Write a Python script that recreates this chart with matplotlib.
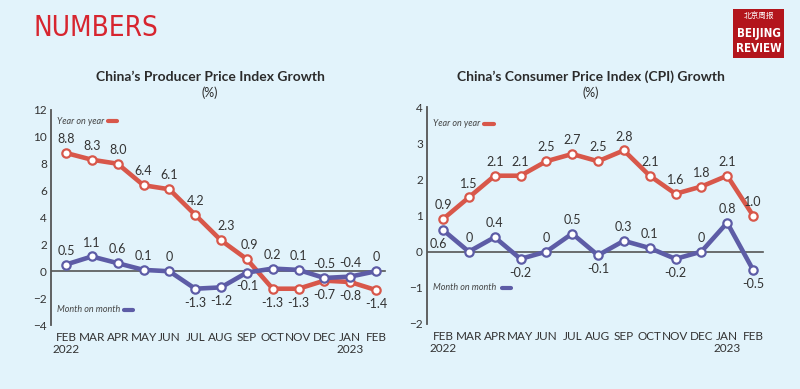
import matplotlib
matplotlib.use("Agg")
import matplotlib.pyplot as plt
from matplotlib.patches import Rectangle
from matplotlib.lines import Line2D

months = ["FEB\n2022", "MAR", "APR", "MAY", "JUN", "JUL", "AUG", "SEP",
          "OCT", "NOV", "DEC", "JAN\n2023", "FEB"]
ppi_yoy = [8.8, 8.3, 8.0, 6.4, 6.1, 4.2, 2.3, 0.9, -1.3, -1.3, -0.7, -0.8, -1.4]
ppi_mom = [0.5, 1.1, 0.6, 0.1, 0, -1.3, -1.2, -0.1, 0.2, 0.1, -0.5, -0.4, 0]
cpi_yoy = [0.9, 1.5, 2.1, 2.1, 2.5, 2.7, 2.5, 2.8, 2.1, 1.6, 1.8, 2.1, 1.0]
cpi_mom = [0.6, 0, 0.4, -0.2, 0, 0.5, -0.1, 0.3, 0.1, -0.2, 0, 0.8, -0.5]
ppi_yoy_lbl = ["8.8", "8.3", "8.0", "6.4", "6.1", "4.2", "2.3", "0.9", "-1.3", "-1.3", "-0.7", "-0.8", "-1.4"]
ppi_mom_lbl = ["0.5", "1.1", "0.6", "0.1", "0", "-1.3", "-1.2", "-0.1", "0.2", "0.1", "-0.5", "-0.4", "0"]
cpi_yoy_lbl = ["0.9", "1.5", "2.1", "2.1", "2.5", "2.7", "2.5", "2.8", "2.1", "1.6", "1.8", "2.1", "1.0"]
cpi_mom_lbl = ["0.6", "0", "0.4", "-0.2", "0", "0.5", "-0.1", "0.3", "0.1", "-0.2", "0", "0.8", "-0.5"]
# +1 above, -1 below
ppi_yoy_pos = [1, 1, 1, 1, 1, 1, 1, 1, -1, -1, -1, -1, -1]
ppi_mom_pos = [1, 1, 1, 1, 1, -1, -1, -1, 1, 1, 1, 1, 1]
cpi_yoy_pos = [1] * 13
cpi_mom_pos = [-1, 1, 1, -1, 1, 1, -1, 1, 1, -1, 1, 1, -1]
# small horizontal nudges (points) for a few labels
ppi_yoy_dx = {6: 4, 7: 2}
cpi_mom_dx = {0: -3}

RED = "#D8574A"
PURPLE = "#5D5CA6"
BG = "#E2F3FB"
TXT = "#333333"

W, H = 800, 389
fig = plt.figure(figsize=(W / 100, H / 100), dpi=100, facecolor=BG)

def fx(x):
    return x / W

def fy(y):
    return 1 - y / H

sans = ["Lato", "DejaVu Sans"]

def make_axes(left_px, right_px, top_px, bottom_px, x0_px, x12_px, ymin, ymax, zero_end_px):
    ax = fig.add_axes([fx(left_px), fy(bottom_px), fx(right_px - left_px), (bottom_px - top_px) / H])
    ax.set_facecolor("none")
    step = (x12_px - x0_px) / 12
    ax.set_xlim(-(x0_px - left_px) / step, 12 + (right_px - x12_px) / step)
    ax.set_ylim(ymin, ymax)
    for s in ["top", "right", "bottom"]:
        ax.spines[s].set_visible(False)
    ax.spines["left"].set_color("#555555")
    ax.spines["left"].set_linewidth(1.3)
    ax.tick_params(axis="x", length=0, colors=TXT, labelsize=8.5, pad=5)
    ax.tick_params(axis="y", length=0, colors=TXT, labelsize=8.5, pad=3)
    ax.set_xticks(range(13))
    ax.set_xticklabels(months, fontfamily=sans, linespacing=1.1)
    ax.set_yticks(range(ymin, ymax + 1, 2 if ymax - ymin > 8 else 1))
    for t in ax.get_yticklabels():
        t.set_fontfamily(sans)
    zx = 12 + (zero_end_px - x12_px) / step
    ax.plot([ax.get_xlim()[0], zx], [0, 0], color="#555555", lw=1.2, zorder=1)
    return ax

def draw_series(ax, vals, lbls, pos, color, dx=None):
    dx = dx or {}
    x = list(range(len(vals)))
    ax.plot(x, vals, color=color, lw=3.3, marker="o", markersize=6,
            markerfacecolor="white", markeredgecolor=color, markeredgewidth=1.6,
            solid_capstyle="round", solid_joinstyle="round", zorder=3)
    for xi, v, l, p in zip(x, vals, lbls, pos):
        ax.annotate(l, (xi, v), xytext=(dx.get(xi, 0), 10 * p), textcoords="offset points",
                    ha="center", va="center", fontsize=9, color=TXT,
                    fontfamily=sans, zorder=4)

ax1 = make_axes(51, 392, 110, 325, 66, 376, -4, 12, 385)
draw_series(ax1, ppi_yoy, ppi_yoy_lbl, ppi_yoy_pos, RED, ppi_yoy_dx)
draw_series(ax1, ppi_mom, ppi_mom_lbl, ppi_mom_pos, PURPLE)

ax2 = make_axes(427, 772, 107, 324, 443, 753, -2, 4, 763)
draw_series(ax2, cpi_yoy, cpi_yoy_lbl, cpi_yoy_pos, RED)
draw_series(ax2, cpi_mom, cpi_mom_lbl, cpi_mom_pos, PURPLE, cpi_mom_dx)

# Titles
fig.text(fx(210), fy(77), "China\u2019s Producer Price Index Growth", ha="center", va="center",
         fontsize=10, fontweight="bold", color="#2B2B2B", fontfamily=sans)
fig.text(fx(210), fy(93), "(%)", ha="center", va="center", fontsize=9, color="#2B2B2B", fontfamily=sans)
fig.text(fx(591), fy(77), "China\u2019s Consumer Price Index (CPI) Growth", ha="center", va="center",
         fontsize=10, fontweight="bold", color="#2B2B2B", fontfamily=sans)
fig.text(fx(591), fy(93), "(%)", ha="center", va="center", fontsize=9, color="#2B2B2B", fontfamily=sans)

# Legends
def legend_item(x_txt, y, text, seg_x0, seg_x1, color):
    fig.text(fx(x_txt), fy(y), text, ha="left", va="center", fontsize=6.5, style="italic",
             color="#444444", fontfamily=sans)
    fig.add_artist(Line2D([fx(seg_x0), fx(seg_x1)], [fy(y), fy(y)], color=color, lw=3,
                          solid_capstyle="round", transform=fig.transFigure))

legend_item(57, 121, "Year on year", 108, 117, RED)
legend_item(57, 310, "Month on month", 124, 133, PURPLE)
legend_item(433, 124, "Year on year", 484, 494, RED)
legend_item(433, 288, "Month on month", 502, 511, PURPLE)

# Header
fig.text(fx(34), fy(28), "NUMBERS", ha="left", va="center", fontsize=20, color="#D7252F",
         fontfamily="DejaVu Sans", fontstretch="condensed", fontweight="light")

# Logo
fig.add_artist(Rectangle((fx(733), fy(58)), fx(51), (58 - 9) / H, transform=fig.transFigure,
                         facecolor="#B3151C", edgecolor="none"))
fig.text(fx(758.5), fy(17), "北京周报", ha="center", va="center", fontsize=5.5, color="white",
         fontfamily=["Noto Sans CJK SC", "DejaVu Sans"])
fig.text(fx(758.5), fy(33), "BEIJING", ha="center", va="center", fontsize=8.3, color="white",
         fontweight="bold", fontfamily="DejaVu Sans", fontstretch="condensed")
fig.text(fx(758.5), fy(48), "REVIEW", ha="center", va="center", fontsize=8.3, color="white",
         fontweight="bold", fontfamily="DejaVu Sans", fontstretch="condensed")

fig.savefig("out.png", dpi=100, facecolor=BG)
